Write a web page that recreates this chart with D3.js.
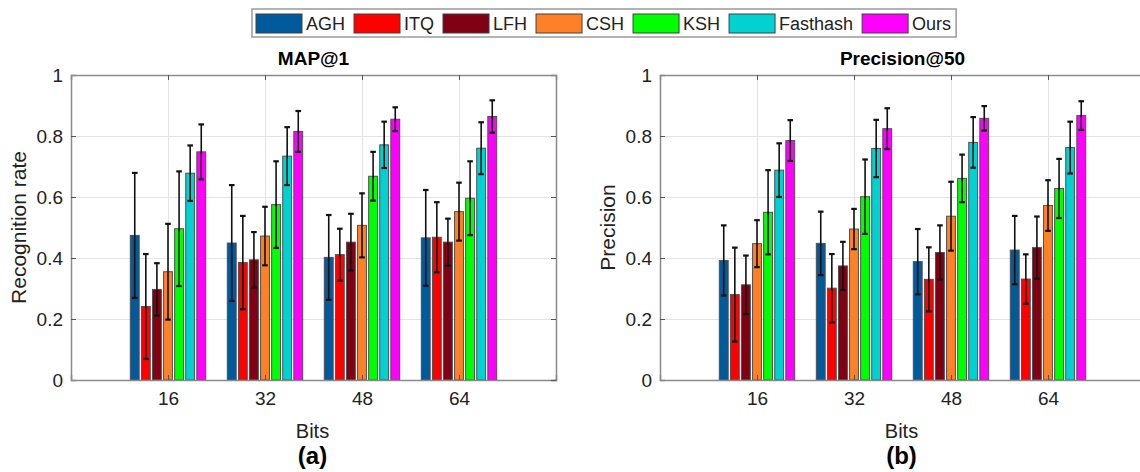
<!DOCTYPE html>
<html>
<head>
<meta charset="utf-8">
<title>MAP@1 / Precision@50</title>
<script src="https://d3js.org/d3.v7.min.js"></script>
<style>
  body { margin: 0; background: #fff; }
  svg { display: block; font-family: "Liberation Sans", Arial, sans-serif; }
  .grid line { stroke: #e3e3e3; stroke-width: 1; }
  .grid path { display: none; }
  .axis path { stroke: #8a8a8a; stroke-width: 1.5; }
  .axis line { stroke: #555; }
  .axis text { font-size: 19px; fill: #222; }
</style>
</head>
<body>
<svg width="1140" height="472"></svg>
<script>
// values
var methods = ["AGH", "ITQ", "LFH", "CSH", "KSH", "Fasthash", "Ours"];
var colors = ["#005a9c", "#ff0000", "#800014", "#ff8026", "#00ff00", "#00d2d2", "#ff00ff"];
var bits = [16, 32, 48, 64];
var yTicks = [0, 0.2, 0.4, 0.6, 0.8, 1];

// rows = methods, columns = bits
var mapMean = [
  [0.474, 0.449, 0.402, 0.466],
  [0.241, 0.385, 0.411, 0.468],
  [0.297, 0.394, 0.452, 0.452],
  [0.355, 0.472, 0.507, 0.552],
  [0.496, 0.575, 0.668, 0.596],
  [0.678, 0.734, 0.771, 0.760],
  [0.748, 0.815, 0.855, 0.864]
];
var mapErr = [
  [0.205, 0.190, 0.139, 0.157],
  [0.172, 0.153, 0.085, 0.115],
  [0.086, 0.091, 0.093, 0.077],
  [0.157, 0.096, 0.105, 0.095],
  [0.188, 0.142, 0.080, 0.121],
  [0.091, 0.095, 0.076, 0.085],
  [0.090, 0.067, 0.039, 0.053]
];
var precMean = [
  [0.392, 0.448, 0.388, 0.426],
  [0.280, 0.301, 0.330, 0.331],
  [0.312, 0.374, 0.418, 0.434],
  [0.447, 0.495, 0.537, 0.572],
  [0.550, 0.601, 0.661, 0.628],
  [0.688, 0.759, 0.779, 0.762],
  [0.785, 0.824, 0.858, 0.867]
];
var precErr = [
  [0.115, 0.104, 0.107, 0.112],
  [0.154, 0.112, 0.105, 0.081],
  [0.096, 0.079, 0.089, 0.102],
  [0.077, 0.066, 0.113, 0.083],
  [0.138, 0.122, 0.078, 0.097],
  [0.088, 0.094, 0.083, 0.085],
  [0.067, 0.067, 0.040, 0.047]
];

var svg = d3.select("svg");
var top0 = 75, height = 305, width = 485;

function panel(left, title, ylabel, tag, means, errs) {
  var x = d3.scaleLinear().domain([0, 80]).range([0, width]);
  var y = d3.scaleLinear().domain([0, 1]).range([height, 0]);
  var g = svg.append("g").attr("transform", "translate(" + left + "," + top0 + ")");

  // grid
  g.append("g").attr("class", "grid")
      .call(d3.axisLeft(y).tickValues(yTicks.slice(1, -1)).tickSize(-width).tickFormat(""));
  g.append("g").attr("class", "grid")
      .call(d3.axisBottom(x).tickValues(bits).tickSize(height).tickFormat(""));

  // bars, matlab grouped layout
  var slot = 0.8 * 16 / methods.length;
  var rows = [];
  methods.forEach(function(m, i) {
    bits.forEach(function(b, j) {
      rows.push({ i: i, cx: b + (i - (methods.length - 1) / 2) * slot, v: means[i][j], e: errs[i][j] });
    });
  });

  g.selectAll(".bar").data(rows).enter().append("rect")
      .attr("class", "bar")
      .attr("x", function(d) { return x(d.cx - 0.4 * slot); })
      .attr("width", x(0.8 * slot) - x(0))
      .attr("y", function(d) { return y(d.v); })
      .attr("height", function(d) { return height - y(d.v); })
      .attr("fill", function(d) { return colors[d.i]; })
      .attr("stroke", "#505050")
      .attr("stroke-width", 1);

  var eb = g.selectAll(".err").data(rows).enter().append("g").attr("class", "err")
      .attr("stroke", "#111").attr("stroke-width", 1.6);
  eb.append("line")
      .attr("x1", function(d) { return x(d.cx); })
      .attr("x2", function(d) { return x(d.cx); })
      .attr("y1", function(d) { return y(d.v - d.e); })
      .attr("y2", function(d) { return y(d.v + d.e); });
  [-1, 1].forEach(function(s) {
    eb.append("line")
        .attr("x1", function(d) { return x(d.cx) - 2.8; })
        .attr("x2", function(d) { return x(d.cx) + 2.8; })
        .attr("y1", function(d) { return y(d.v + s * d.e); })
        .attr("y2", function(d) { return y(d.v + s * d.e); })
        .attr("stroke-width", 2.2);
  });

  // box with inward ticks
  g.append("g").attr("class", "axis")
      .call(d3.axisLeft(y).tickValues(yTicks).tickSize(-5).tickPadding(8).tickFormat(d3.format("~g")));
  g.append("g").attr("class", "axis").attr("transform", "translate(0," + height + ")")
      .call(d3.axisBottom(x).tickValues(bits).tickSize(-5).tickPadding(12));
  g.append("g").attr("class", "axis").attr("transform", "translate(" + width + ",0)")
      .call(d3.axisRight(y).tickValues(yTicks).tickSize(-5).tickFormat(""));
  g.append("g").attr("class", "axis")
      .call(d3.axisTop(x).tickValues(bits).tickSize(-5).tickFormat(""));

  g.append("text").attr("x", width / 2).attr("y", -10)
      .attr("text-anchor", "middle").attr("font-size", 19).attr("font-weight", "bold")
      .text(title);
  g.append("text").attr("transform", "translate(-45," + height / 2 + ") rotate(-90)")
      .attr("text-anchor", "middle").attr("font-size", 21).attr("fill", "#222")
      .text(ylabel);
  g.append("text").attr("x", width / 2 - 1).attr("y", height + 58)
      .attr("text-anchor", "middle").attr("font-size", 20).attr("fill", "#222")
      .text("Bits");
  g.append("text").attr("x", width / 2 - 1).attr("y", height + 84)
      .attr("text-anchor", "middle").attr("font-size", 24).attr("font-weight", "bold")
      .text(tag);
}

panel(71, "MAP@1", "Recognition rate", "(a)", mapMean, mapErr);
panel(660, "Precision@50", "Precision", "(b)", precMean, precErr);

// legend
var lg = svg.append("g");
var box = lg.append("rect").attr("y", 9).attr("height", 28)
    .attr("fill", "#fff").attr("stroke", "#9a9a9a").attr("stroke-width", 1.5);
var lx = 256;
methods.forEach(function(m, i) {
  lg.append("rect").attr("x", lx).attr("y", 14).attr("width", 46).attr("height", 19)
      .attr("fill", colors[i]).attr("stroke", "#404040").attr("stroke-width", 1);
  var t = lg.append("text").attr("x", lx + 50).attr("y", 30)
      .attr("font-size", 18).attr("fill", "#222").text(m);
  lx += 50 + t.node().getComputedTextLength() + 9;
});
box.attr("x", 252).attr("width", lx - 252 - 4);
</script>
</body>
</html>
